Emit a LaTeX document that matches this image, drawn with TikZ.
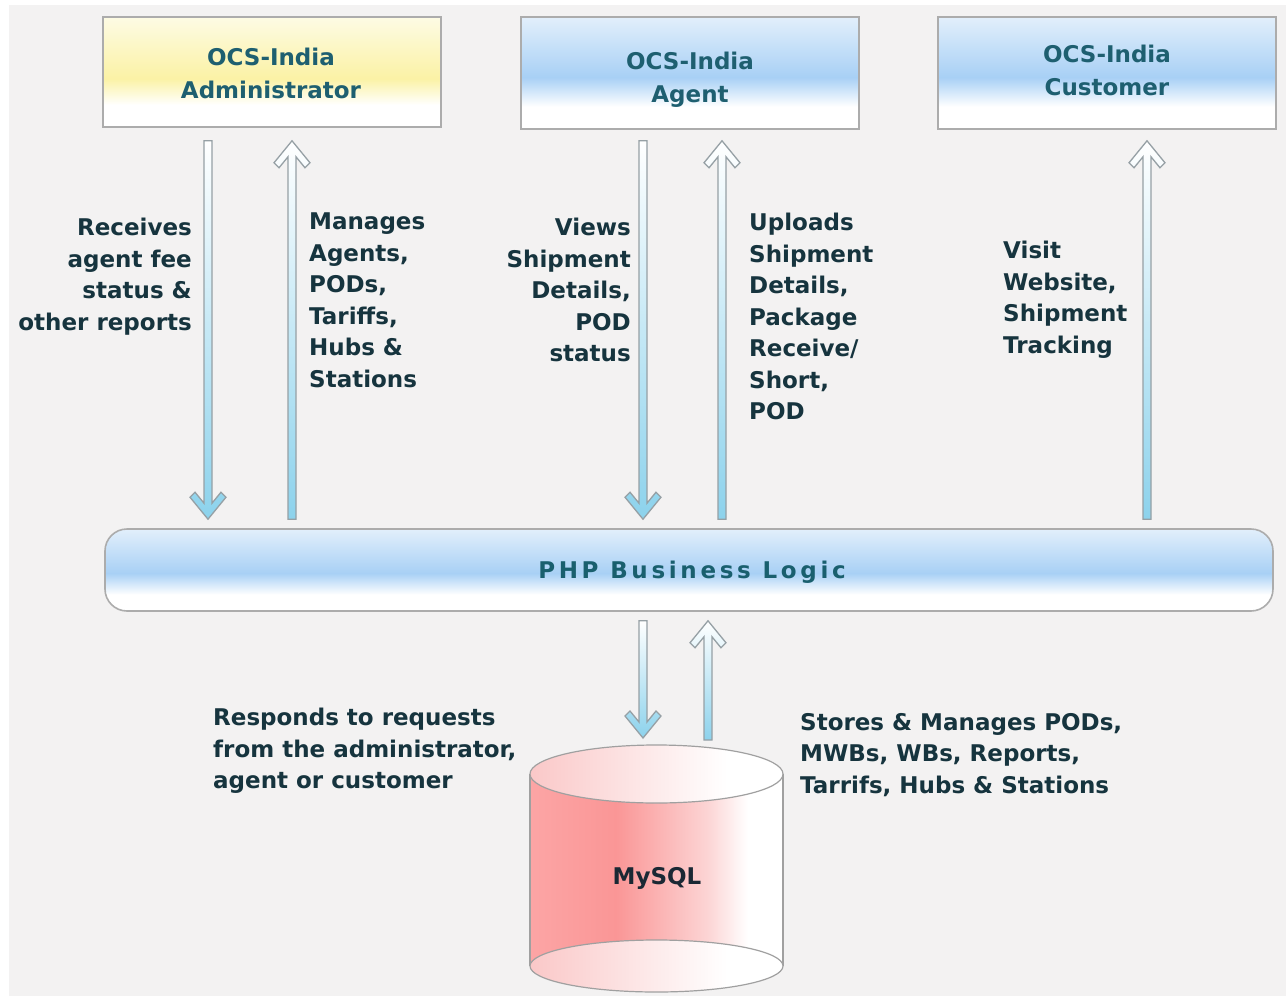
\documentclass[tikz,border=0pt]{standalone}
\usepackage{fontspec}
\setmainfont{DejaVu Sans}
\usetikzlibrary{calc}
\definecolor{bg}{RGB}{243,242,242}
\definecolor{boxline}{RGB}{172,172,172}
\definecolor{labelcol}{RGB}{22,52,62}
\definecolor{titlecol}{RGB}{30,95,112}
\definecolor{phpcol}{RGB}{25,95,110}
\definecolor{dbtext}{RGB}{26,40,52}
\definecolor{arrblue}{RGB}{140,210,236}
\definecolor{arrline}{RGB}{150,160,165}
\definecolor{yelT}{RGB}{253,251,228}
\definecolor{yelM}{RGB}{251,242,165}
\definecolor{bluT}{RGB}{226,239,251}
\definecolor{bluM}{RGB}{168,208,245}
\definecolor{pinkL}{RGB}{252,165,165}
\definecolor{pinkD}{RGB}{250,150,150}
\definecolor{pinkM}{RGB}{252,212,212}
\definecolor{pinkT}{RGB}{250,200,200}
\definecolor{cylline}{RGB}{160,160,160}
\pgfdeclareverticalshading{yelbox}{100bp}{color(0bp)=(white); color(35bp)=(white); color(47bp)=(yelM); color(75bp)=(yelT); color(100bp)=(yelT)}
\pgfdeclareverticalshading{bluebox}{100bp}{color(0bp)=(white); color(35bp)=(white); color(48bp)=(bluM); color(75bp)=(bluT); color(100bp)=(bluT)}
\pgfdeclarehorizontalshading{cylbody}{100bp}{color(0bp)=(pinkL); color(25bp)=(pinkL); color(42bp)=(pinkD); color(60bp)=(pinkM); color(68bp)=(white); color(100bp)=(white)}
\pgfdeclarehorizontalshading{cyltop}{100bp}{color(0bp)=(pinkT); color(25bp)=(pinkT); color(64bp)=(white); color(100bp)=(white)}
\newcommand\lblfont{\fontsize{23}{31.5}\selectfont\bfseries}
\newcommand\ttlfont{\fontsize{23}{33}\selectfont\bfseries}
\newcommand\arrdown[2]{\path[arrowbody] let \p1=(#1), \p2=(#2) in
  (\x1-4pt,\y1) -- (\x1-4pt,\y2+16pt) -- (\x1-13pt,\y2+27pt) -- (\x1-18pt,\y2+22pt) -- (\x1,\y2)
  -- (\x1+18pt,\y2+22pt) -- (\x1+13pt,\y2+27pt) -- (\x1+4pt,\y2+16pt) -- (\x1+4pt,\y1) -- cycle;}
\newcommand\arrup[2]{\path[arrowbody] let \p1=(#1), \p2=(#2) in
  (\x1-4pt,\y1) -- (\x1-4pt,\y2-16pt) -- (\x1-13pt,\y2-27pt) -- (\x1-18pt,\y2-22pt) -- (\x1,\y2)
  -- (\x1+18pt,\y2-22pt) -- (\x1+13pt,\y2-27pt) -- (\x1+4pt,\y2-16pt) -- (\x1+4pt,\y1) -- cycle;}
\tikzset{
  box/.style={draw=boxline, line width=1.6pt, minimum width=338pt, inner sep=0pt, shade},
  ttl/.style={font=\ttlfont, text=titlecol, align=center, inner sep=0pt},
  lbl/.style={font=\lblfont, text=labelcol, inner sep=0pt},
  arrowbody/.style={draw=arrline, line width=1.3pt, top color=white, bottom color=arrblue, line join=miter},
}
\begin{document}
\begin{tikzpicture}[x=1pt,y=-1pt]
\useasboundingbox (0,0) rectangle (1286,996);
\fill[bg] (9,5) rectangle (1286,996);
% top boxes
\node[box, shading=yelbox, minimum height=110pt] (admin) at (272,72) {};
\node[box, shading=bluebox, minimum height=112pt] (agent) at (690,73) {};
\node[box, shading=bluebox, minimum height=112pt] (customer) at (1107,73) {};
\node[ttl] (admint) at ($(admin.center)+(-1,1.5)$) {OCS-India\\Administrator};
\node[ttl] (agentt) at ($(agent.center)+(0,7)$) {OCS-India\\Agent};
\node[ttl] (customert) at ($(customer.center)+(0,-3)$) {OCS-India\\Customer};
% business logic bar
\node[draw=boxline, line width=1.6pt, rounded corners=22pt, shade, shading=bluebox,
  minimum width=1168pt, minimum height=82pt, inner sep=0pt] (php) at (689,570) {};
\node[font=\lblfont, text=phpcol, inner sep=0pt] (phpt) at ($(php.center)+(3,2)$)
  {\addfontfeature{LetterSpace=16}PHP Business Logic};
% database cylinder
\shade[shading=cylbody] (530,774) rectangle (783,966);
\draw[cylline, line width=1.2pt] (530,774) -- (530,966) (783,774) -- (783,966);
\path[shade, shading=cyltop, draw=cylline, line width=1.2pt] (656.5,966) ellipse [x radius=126.5, y radius=26];
\path[shade, shading=cyltop, draw=cylline, line width=1.2pt] (656.5,774) ellipse [x radius=126.5, y radius=29];
\coordinate (dbtop) at (657,745);
\node[lbl, text=dbtext] (db) at (657,878) {MySQL};
% arrows
\arrdown{$(admin.south)+(-64,13)$}{$(php.north-|admin.south)+(-64,-9)$}
\arrup{$(php.north-|admin.south)+(20,-9)$}{$(admin.south)+(20,13)$}
\arrdown{$(agent.south)+(-47,11)$}{$(php.north-|agent.south)+(-47,-9)$}
\arrup{$(php.north-|agent.south)+(32,-9)$}{$(agent.south)+(32,11)$}
\arrup{$(php.north-|customer.south)+(40,-9)$}{$(customer.south)+(40,11)$}
\arrdown{$(php.south)+(-46,9)$}{$(dbtop)+(-14,-7)$}
\arrup{$(dbtop)+(51,-5)$}{$(php.south)+(19,9)$}
% labels
\node[lbl, anchor=north east, align=right] (l1) at (192,218) {Receives\\agent fee\\status \&\\other reports};
\node[lbl, anchor=north west, align=left] (l2) at (309,213) {Manages\\Agents,\\PODs,\\Tariffs,\\Hubs \&\\Stations};
\node[lbl, anchor=north east, align=right] (l3) at (631,218) {Views\\Shipment\\Details,\\POD\\status};
\node[lbl, anchor=north west, align=left] (l4) at (749,213) {Uploads\\Shipment\\Details,\\Package\\Receive/\\Short,\\POD};
\node[lbl, anchor=north west, align=left] (l5) at (1003,241) {Visit\\Website,\\Shipment\\Tracking};
\node[lbl, anchor=north west, align=left] (l6) at (213,708) {Responds to requests\\from the administrator,\\agent or customer};
\node[lbl, anchor=north west, align=left] (l7) at (800,713) {Stores \& Manages PODs,\\MWBs, WBs, Reports,\\Tarrifs, Hubs \& Stations};
\end{tikzpicture}
\end{document}
